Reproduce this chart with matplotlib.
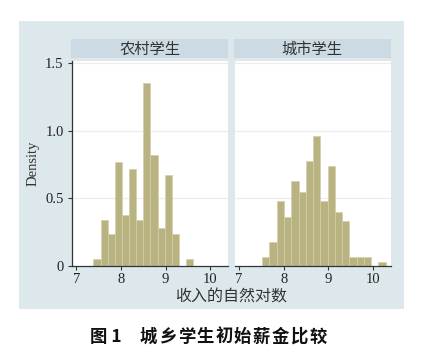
import matplotlib.pyplot as plt
from matplotlib.patches import Rectangle

# histogram bins (left edge of each bin, density)
rural_left = [7.38, 7.54, 7.70, 7.86, 8.02, 8.18, 8.34, 8.50, 8.66, 8.82, 8.98, 9.14, 9.30, 9.46]
rural_density = [0.05, 0.34, 0.24, 0.77, 0.38, 0.72, 0.34, 1.35, 0.82, 0.28, 0.67, 0.24, 0.0, 0.05]
rural_width = 0.16

urban_left = [7.52, 7.6825, 7.845, 8.0075, 8.17, 8.3325, 8.495, 8.6575, 8.82,
              8.9825, 9.145, 9.3075, 9.47, 9.6325, 9.795, 9.9575, 10.12]
urban_density = [0.065, 0.18, 0.48, 0.36, 0.63, 0.55, 0.78, 0.965, 0.48,
                 0.74, 0.40, 0.33, 0.065, 0.065, 0.065, 0.0, 0.03]
urban_width = 0.1625

panel_titles = ['农村学生', '城市学生']
xticks = [7, 8, 9, 10]
yticks = [0, 0.5, 1.0, 1.5]
ytick_labels = ['0', '0.5', '1.0', '1.5']
caption_num = '图 1'
caption = '城乡学生初始薪金比较'

W, H = 422, 357
bg = '#dde8ec'
strip = '#cbdae3'
bar_color = '#b9b382'
bar_edge = '#d3cfac'
cjk = ['Noto Sans CJK SC', 'DejaVu Sans']
serif = ['Liberation Serif', 'DejaVu Serif']

fig = plt.figure(figsize=(W / 100, H / 100), dpi=100)
fig.patch.set_facecolor('white')


def fx(px):
    return px / W


def fy(py):
    return 1 - py / H


# graph region background
fig.patches.append(Rectangle((fx(19), fy(309)), fx(404) - fx(19), fy(21) - fy(309),
                             transform=fig.transFigure, facecolor=bg, edgecolor='none', zorder=-10))

panels = [(72, 228), (234.5, 391)]
data = [(rural_left, rural_density, rural_width), (urban_left, urban_density, urban_width)]
top, bottom = 60.5, 266

for i, ((x0, x1), (lefts, dens, w)) in enumerate(zip(panels, data)):
    ax = fig.add_axes([fx(x0), fy(bottom), fx(x1) - fx(x0), fy(top) - fy(bottom)])
    ax.set_facecolor('white')
    ax.bar(lefts, dens, width=w, align='edge', color=bar_color, edgecolor=bar_edge,
           linewidth=0.5, zorder=2)
    ax.set_xlim(6.9, 10.4)
    ax.set_ylim(0, 1.52)
    for yv in yticks[1:]:
        ax.axhline(yv, color='#ececec', lw=0.8, zorder=1)
    for s in ['top', 'right']:
        ax.spines[s].set_visible(False)
    ax.spines['bottom'].set_color('#333333')
    ax.spines['bottom'].set_linewidth(0.9)
    ax.set_xticks(xticks)
    ax.set_xticklabels([str(t) for t in xticks], family=serif, fontsize=10.5, color='#222222')
    ax.tick_params(axis='x', length=3, width=0.8, color='#333333', pad=2)
    if i == 0:
        ax.spines['left'].set_color('#333333')
        ax.spines['left'].set_linewidth(0.9)
        ax.set_yticks(yticks)
        ax.set_yticklabels(ytick_labels, family=serif, fontsize=10.5, color='#222222')
        ax.tick_params(axis='y', length=3, width=0.8, color='#333333', pad=3)
    else:
        ax.spines['left'].set_visible(False)
        ax.set_yticks([])

    # panel header strip
    hx = fig.add_axes([fx(x0 - 1), fy(58), fx(x1) - fx(x0 - 1), fy(39.3) - fy(58)])
    hx.set_facecolor(strip)
    hx.set_xticks([])
    hx.set_yticks([])
    for s in hx.spines.values():
        s.set_visible(False)
    hx.text(0.5, 0.48, panel_titles[i], ha='center', va='center', family=cjk,
            fontsize=11, color='#333333', transform=hx.transAxes)

fig.text(fx(33), fy(163), 'Density', rotation=90, ha='center', va='center',
         family=serif, fontsize=10.5, color='#333333')
fig.text(fx(231), fy(297), '收入的自然对数', ha='center', va='center',
         family=cjk, fontsize=11.5, color='#333333')

# caption, letter-spaced like the printed figure title
fig.text(fx(90), fy(337), caption_num, ha='left', va='center', family=cjk,
         fontsize=12.5, fontweight='bold', color='#111111')
step = 18.8
for k, ch in enumerate(caption):
    fig.text(fx(140 + k * step), fy(337), ch, ha='left', va='center', family=cjk,
             fontsize=12.5, fontweight='bold', color='#111111')

fig.savefig('out.png', dpi=100, facecolor=fig.get_facecolor())
